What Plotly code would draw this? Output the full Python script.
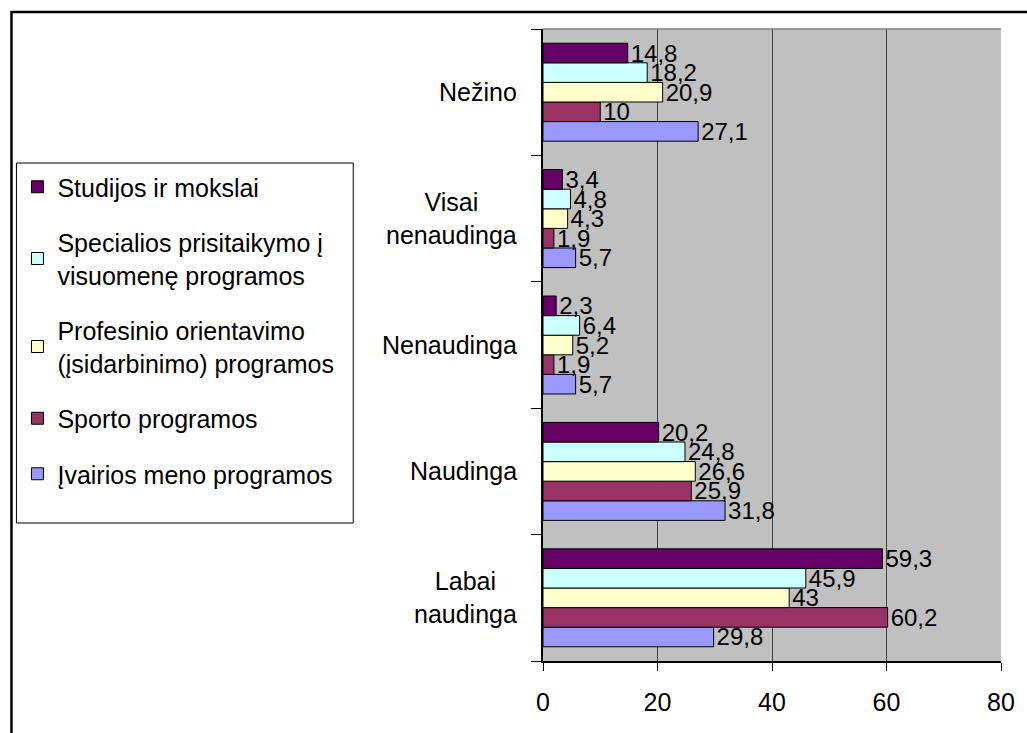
import plotly.graph_objects as go

# categories bottom -> top
categories = ["Labai naudinga", "Naudinga", "Nenaudinga", "Visai nenaudinga", "Nežino"]
category_labels = ["Labai<br>naudinga", "Naudinga", "Nenaudinga", "Visai<br>nenaudinga", "Nežino"]

# series, in order from top bar of each group to bottom bar
series_names = [
    "Studijos ir mokslai",
    "Specialios prisitaikymo į<br>visuomenę programos",
    "Profesinio orientavimo<br>(įsidarbinimo) programos",
    "Sporto programos",
    "Įvairios meno programos",
]
studijos = [59.3, 20.2, 2.3, 3.4, 14.8]
specialios = [45.9, 24.8, 6.4, 4.8, 18.2]
profesinio = [43, 26.6, 5.2, 4.3, 20.9]
sporto = [60.2, 25.9, 1.9, 1.9, 10]
meno = [29.8, 31.8, 5.7, 5.7, 27.1]
series_values = [studijos, specialios, profesinio, sporto, meno]
colors = ["#660066", "#CCFFFF", "#FFFFCC", "#993366", "#9999FF"]

x_ticks = [0, 20, 40, 60, 80]

FONT = "Arial, Liberation Sans, sans-serif"
W, H = 1027, 733
L, R, T, B = 543, 1004, 29, 661  # plot area in pixels


def px_x(x):
    return (x - L) / (R - L)


def px_y(y):
    return (B - y) / (B - T)


def fmt(v):
    return f"{v:g}".replace(".", ",")


fig = go.Figure()

# plotly draws the first trace at the bottom of a group, so go in reverse
for i in reversed(range(len(series_names))):
    vals = series_values[i]
    fig.add_trace(go.Bar(
        y=categories,
        x=vals,
        orientation="h",
        name=series_names[i],
        legendgroup=str(i),
        legendrank=i + 1,
        marker=dict(color=colors[i], line=dict(color="black", width=1)),
        text=[fmt(v) for v in vals],
        textposition="outside",
        textfont=dict(family=FONT, size=24, color="black"),
        constraintext="none",
        cliponaxis=False,
    ))

annotations = []
for cat, lab in zip(categories, category_labels):
    annotations.append(dict(
        x=px_x(519), xref="paper", xanchor="right",
        y=cat, yref="y", yanchor="middle",
        text=lab, align="center", showarrow=False,
        font=dict(family=FONT, size=25, color="black"),
    ))

shapes = [
    # outer chart border (left and top edges visible)
    dict(type="path", xref="paper", yref="paper",
         path=f"M {px_x(8)} {px_y(760)} L {px_x(8)} {px_y(12)} L {px_x(1040)} {px_y(12)}",
         line=dict(color="black", width=2.5)),
    # legend box
    dict(type="rect", xref="paper", yref="paper",
         x0=px_x(13), x1=px_x(352), y0=px_y(523), y1=px_y(163),
         line=dict(color="black", width=1), fillcolor="white", layer="below"),
    # top edge of plot area
    dict(type="line", xref="paper", yref="paper", x0=0, x1=1, y0=1, y1=1,
         line=dict(color="#808080", width=1.5)),
]

fig.update_layout(
    width=W, height=H,
    margin=dict(l=L, r=W - R, t=T, b=H - B, pad=0),
    paper_bgcolor="white",
    plot_bgcolor="#C0C0C0",
    barmode="group",
    bargap=0.225,
    bargroupgap=0,
    font=dict(family=FONT, size=24, color="black"),
    separators=",.",
    showlegend=True,
    legend=dict(
        x=px_x(14), y=px_y(164), xanchor="left", yanchor="top",
        xref="paper", yref="paper",
        bgcolor="rgba(0,0,0,0)", borderwidth=0,
        font=dict(family=FONT, size=25, color="black"),
        traceorder="grouped",
        tracegroupgap=20,
        itemwidth=30,
    ),
    annotations=annotations,
    shapes=shapes,
    xaxis=dict(
        range=[0, 80], tickvals=x_ticks, ticks="outside", ticklen=8,
        tickcolor="black", showgrid=True, gridcolor="#404040", gridwidth=1,
        showline=True, linecolor="black", linewidth=1.5, zeroline=False,
        tickfont=dict(family=FONT, size=25), ticklabelstandoff=10,
        fixedrange=True,
    ),
    yaxis=dict(
        type="category", categoryorder="array", categoryarray=categories,
        tickson="boundaries", ticks="outside", ticklen=10, tickcolor="black",
        showticklabels=False, showgrid=False, showline=True,
        linecolor="black", linewidth=1.5, zeroline=False,
    ),
)

fig.write_html(
    "out.html",
    config={"displayModeBar": False},
    post_script="document.body.style.margin='0';",
)
